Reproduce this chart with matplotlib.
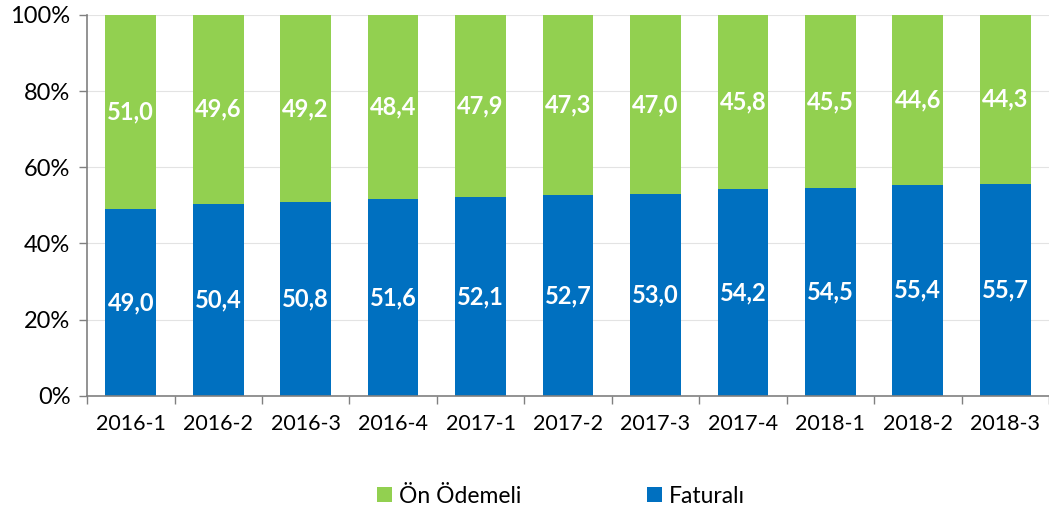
import numpy as np
import matplotlib
matplotlib.use("Agg")
import matplotlib.pyplot as plt
from matplotlib.ticker import FixedLocator, PercentFormatter

# ---------------------------------------------------------------------------
# Data: prepaid vs postpaid subscriber share per quarter (%)
# ---------------------------------------------------------------------------
periods = ["2016-1", "2016-2", "2016-3", "2016-4", "2017-1", "2017-2",
           "2017-3", "2017-4", "2018-1", "2018-2", "2018-3"]
faturali = [49.0, 50.4, 50.8, 51.6, 52.1, 52.7, 53.0, 54.2, 54.5, 55.4, 55.7]
on_odemeli = [51.0, 49.6, 49.2, 48.4, 47.9, 47.3, 47.0, 45.8, 45.5, 44.6, 44.3]

GREEN = "#92D050"
BLUE = "#0070C0"

plt.rcParams["font.family"] = ["Lato", "DejaVu Sans"]

fig = plt.figure(figsize=(10.49, 5.16), dpi=100)
ax = fig.add_axes([0.083, 0.233, 0.917, 0.738])

x = np.arange(len(periods))
w = 0.58
ax.bar(x, faturali, width=w, color=BLUE, label="Faturalı", zorder=2)
ax.bar(x, on_odemeli, width=w, bottom=faturali, color=GREEN,
       label="Ön Ödemeli", zorder=2)

fmt = lambda v: f"{v:.1f}".replace(".", ",")
for xi, b, g in zip(x, faturali, on_odemeli):
    ax.text(xi, b / 2, fmt(b), ha="center", va="center", color="white",
            fontsize=17, fontweight="bold", zorder=3)
    ax.text(xi, b + g / 2, fmt(g), ha="center", va="center", color="white",
            fontsize=17, fontweight="bold", zorder=3)

ax.set_xlim(-0.5, len(periods) - 0.5)
ax.set_ylim(0, 100)
ax.yaxis.set_major_locator(FixedLocator([0, 20, 40, 60, 80, 100]))
ax.yaxis.set_major_formatter(PercentFormatter(decimals=0))
ax.grid(axis="y", color="#e3e3e3", linewidth=0.8, zorder=0)

# category labels centred, tick marks on the boundaries
ax.set_xticks(x)
ax.set_xticklabels(periods)
ax.set_xticks(np.arange(-0.5, len(periods)), minor=True)
ax.tick_params(axis="x", which="major", length=0, pad=13, labelsize=15.5)
ax.tick_params(axis="x", which="minor", length=6, width=1, color="#808080")
ax.tick_params(axis="y", length=6, width=1, color="#808080", labelsize=17, pad=6)

for s in ["top", "right"]:
    ax.spines[s].set_visible(False)
ax.spines["left"].set_color("#808080")
ax.spines["bottom"].set_color("#808080")
ax.spines["left"].set_linewidth(1.2)
ax.spines["bottom"].set_linewidth(1.2)

handles, labels = ax.get_legend_handles_labels()
fig.legend(handles[::-1], labels[::-1], loc="center", bbox_to_anchor=(0.535, 0.038),
           ncol=2, frameon=False, fontsize=16.5, handlelength=0.65, handleheight=0.65,
           columnspacing=5.5, handletextpad=0.3)

fig.savefig("out.png", dpi=100)
plt.close(fig)
